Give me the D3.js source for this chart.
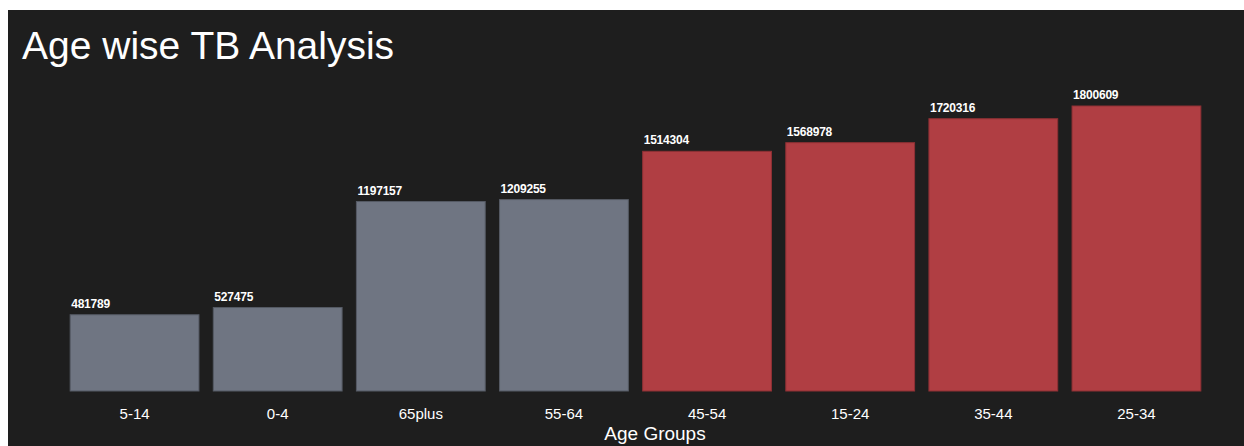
<!DOCTYPE html>
<html>
<head>
<meta charset="utf-8">
<script src="https://cdn.jsdelivr.net/npm/d3@7"></script>
<style>
    body { margin: 0; background: #ffffff; overflow: hidden; }
    #chart { position: absolute; left: 8px; top: 10px; width: 1236px; height: 436px; background: #1e1e1e; }
    text { font-family: "Liberation Sans", Arial, sans-serif; fill: #ffffff; }
</style>
</head>
<body>
<div id="chart"></div>
<script>
// age groups, sorted by number of cases
var ageGroups = ["5-14", "0-4", "65plus", "55-64", "45-54", "15-24", "35-44", "25-34"];
var caseCounts = [481789, 527475, 1197157, 1209255, 1514304, 1568978, 1720316, 1800609];
var highThreshold = 1300000;

var width = 1236, height = 436;

var svg = d3.select("#chart").append("svg")
    .attr("width", width)
    .attr("height", height);

// chart coordinates are relative to the dark panel (offset 8,10 on the page)
var xScale = d3.scaleBand()
    .domain(ageGroups)
    .range([55, 1200])
    .paddingInner(0.1)
    .paddingOuter(0.05);

var yScale = d3.scaleLinear()
    .domain([0, d3.max(caseCounts)])
    .range([381, 96]);

var data = ageGroups.map(function(g, i){
    return {group: g, count: caseCounts[i]};
});

svg.append("text")
    .attr("x", 14)
    .attr("y", 49)
    .style("font-size", "39px")
    .text("Age wise TB Analysis");

svg.selectAll("rect.bar")
    .data(data)
    .enter()
    .append("rect")
    .attr("class", "bar")
    .attr("x", function(d){ return xScale(d.group); })
    .attr("y", function(d){ return yScale(d.count); })
    .attr("width", xScale.bandwidth())
    .attr("height", function(d){ return yScale(0) - yScale(d.count); })
    .attr("fill", function(d){ return d.count > highThreshold ? "#b03e43" : "#6f7582"; })
    .attr("stroke", function(d){ return d.count > highThreshold ? "#8e3034" : "#555a64"; })
    .attr("stroke-width", 1);

svg.selectAll("text.value")
    .data(data)
    .enter()
    .append("text")
    .attr("class", "value")
    .attr("x", function(d){ return xScale(d.group) + 1; })
    .attr("y", function(d){ return yScale(d.count) - 7; })
    .style("font-size", "12px")
    .style("font-weight", "bold")
    .style("letter-spacing", "-0.2px")
    .text(function(d){ return d.count; });

var xAxis = svg.append("g")
    .attr("transform", "translate(0," + yScale(0) + ")")
    .call(d3.axisBottom(xScale).tickSize(0).tickPadding(17));

xAxis.select(".domain").remove();
xAxis.selectAll("text")
    .style("font-size", "15px")
    .style("font-family", "\"Liberation Sans\", Arial, sans-serif")
    .attr("fill", "#ffffff");

svg.append("text")
    .attr("x", 647)
    .attr("y", 430)
    .attr("text-anchor", "middle")
    .style("font-size", "19px")
    .text("Age Groups");
</script>
</body>
</html>
